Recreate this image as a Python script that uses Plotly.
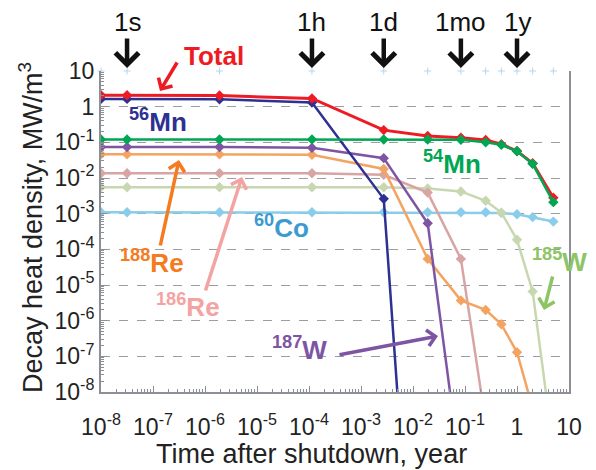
import math
import plotly.graph_objects as go

YEAR_S = 365.25 * 24 * 3600

# ---- data ----
times = [1e-8, 1 / YEAR_S, 60 / YEAR_S, 3600 / YEAR_S, 86400 / YEAR_S, 7 * 86400 / YEAR_S,
         1 / 12, 0.25, 0.5, 1, 2, 5]
total = [2.1, 2.1, 2.05, 1.7, 0.22, 0.15, 0.135, 0.117, 0.089, 0.057, 0.026, 0.0028]
mn56 = [1.65, 1.65, 1.62, 1.3, 0.0026, 8e-21]
mn54 = [0.12, 0.12, 0.12, 0.12, 0.12, 0.12, 0.118, 0.1, 0.085, 0.056, 0.025, 0.0021]
w187 = [0.074, 0.074, 0.074, 0.07, 0.036, 5.4e-4, 5e-11]
re188 = [0.046, 0.046, 0.046, 0.045, 0.018, 5.4e-5, 3.7e-6, 2.0e-6, 7.9e-7, 1.3e-7, 3.5e-9]
re186 = [0.0136, 0.0136, 0.0136, 0.0136, 0.0123, 0.0039, 5.4e-5, 1.4e-9]
w185 = [0.0055, 0.0055, 0.0055, 0.0055, 0.0055, 0.0051, 0.0042, 0.0023, 0.00107, 1.86e-4, 6.6e-6, 2.5e-10]
co60 = [0.0011, 0.0011, 0.0011, 0.0011, 0.0011, 0.0011, 0.0011, 0.0011, 0.00105, 0.00096, 0.0008, 0.0006]
top_ref = [10] * len(times)

y_tickvals = [10.0 ** k for k in range(1, -9, -1)]
y_ticktext = ["10", "1"] + [f"10<sup>-{k}</sup>" for k in range(1, 9)]
x_tickvals = [10.0 ** k for k in range(-8, 2)]
x_ticktext = [f"10<sup>-{k}</sup>" for k in range(8, 0, -1)] + ["1", "10"]

time_marks = ["1s", "1h", "1d", "1mo", "1y"]
time_mark_years = [1 / YEAR_S, 3600 / YEAR_S, 86400 / YEAR_S, 1 / 12, 1.0]

FONT = "Liberation Sans, Arial, sans-serif"

series = [
    ("60Co", co60, "#8ACDEA", 2.5),
    ("185W", w185, "#C7D8B0", 2.5),
    ("186Re", re186, "#D8A4A4", 2.5),
    ("188Re", re188, "#F4A462", 2.5),
    ("187W", w187, "#7E55A3", 2.5),
    ("56Mn", mn56, "#2E3192", 2.5),
    ("Total", total, "#ED1C24", 3),
    ("54Mn", mn54, "#00A651", 2.5),
]

fig = go.Figure()
fig.add_trace(go.Scatter(
    x=times, y=top_ref, mode="markers", hoverinfo="skip",
    marker=dict(symbol="cross-thin", size=5, line=dict(color="#B5D5EE", width=1)),
    cliponaxis=False, showlegend=False))
for name, vals, color, w in series:
    fig.add_trace(go.Scatter(
        x=times[:len(vals)], y=vals, mode="lines+markers", name=name,
        line=dict(color=color, width=w),
        marker=dict(symbol="diamond", size=8, color=color),
        showlegend=False))

# plot area in pixels
L, R, T, B = 101, 569, 71, 392
W, H = 596, 470


def pxp(xp):
    return (xp - L) / (R - L)


def pyp(yp):
    return (B - yp) / (B - T)


ann = []
# time arrows
for lab, t in zip(time_marks, time_mark_years):
    ann.append(dict(x=math.log10(t), xref="x", y=pyp(68), yref="paper", text=lab,
                    showarrow=True, ax=0, ay=-46, arrowhead=4, arrowsize=1.0, arrowwidth=4.5,
                    arrowcolor="#111111", font=dict(family=FONT, size=26, color="#111111")))

labels = [
    ("<b>Total</b>", 214, 56, "#ED1C24"),
    ("<b><sup>56</sup>Mn</b>", 158, 120, "#2E3192"),
    ("<b><sup>54</sup>Mn</b>", 452, 162, "#00A651"),
    ("<b><sup>60</sup>Co</b>", 281, 226, "#3D9AD1"),
    ("<b><sup>188</sup>Re</b>", 152, 261, "#F47B20"),
    ("<b><sup>186</sup>Re</b>", 188, 305, "#F4A3A3"),
    ("<b><sup>187</sup>W</b>", 299, 348, "#7E55A3"),
    ("<b><sup>185</sup>W</b>", 559, 260, "#8DC565"),
]
for txt, xp, yp, c in labels:
    ann.append(dict(x=pxp(xp), y=pyp(yp), xref="paper", yref="paper", text=txt,
                    showarrow=False, xanchor="center", yanchor="middle",
                    font=dict(family=FONT, size=26, color=c)))

arrows = [
    ((178, 61), (160, 91), "#ED1C24"),
    ((160, 247), (179, 160), "#F47B20"),
    ((205, 292), (242, 177), "#F4A3A3"),
    ((338, 355), (438, 336), "#7E55A3"),
    ((553, 275), (544, 310), "#8DC565"),
]
for (tx, ty), (hx, hy), c in arrows:
    ann.append(dict(x=pxp(hx), y=pyp(hy), xref="paper", yref="paper", text="",
                    showarrow=True, ax=tx - hx, ay=ty - hy, arrowhead=4, arrowsize=0.9,
                    arrowwidth=3.5, arrowcolor=c))

# axis titles as annotations
ann.append(dict(x=pxp(31), y=pyp(228), xref="paper", yref="paper",
                text="Decay heat density, MW/m<sup>3</sup>", textangle=-90, showarrow=False,
                xanchor="center", yanchor="middle",
                font=dict(family=FONT, size=27, color="#222222")))
ann.append(dict(x=pxp(311), y=pyp(454), xref="paper", yref="paper",
                text="Time after shutdown, year", showarrow=False,
                xanchor="center", yanchor="middle",
                font=dict(family=FONT, size=27, color="#222222")))

minor_vals = [k * 10.0 ** d for d in range(-8, 1) for k in range(2, 10)]

fig.update_layout(
    width=W, height=H, margin=dict(l=L, r=W - R, t=T, b=H - B, autoexpand=False),
    paper_bgcolor="white", plot_bgcolor="white",
    font=dict(family=FONT, color="#222222"),
    annotations=ann,
    xaxis=dict(type="log", range=[-8, 1], tickmode="array", tickvals=x_tickvals,
               ticktext=x_ticktext, tickfont=dict(size=23), showgrid=False,
               showline=True, linecolor="#8C9096", linewidth=2, ticks="inside",
               ticklen=6, tickcolor="#8C9096", zeroline=False, automargin=False,
               ticklabelstandoff=13,
               minor=dict(tickmode="array", tickvals=minor_vals, ticks="inside", ticklen=3,
                          tickcolor="#8C9096", showgrid=False)),
    yaxis=dict(type="log", range=[-8, 1], tickmode="array", tickvals=y_tickvals,
               ticktext=y_ticktext, tickfont=dict(size=23), showgrid=True,
               gridcolor="#9A9EA4", griddash="dash", gridwidth=1,
               showline=True, linecolor="#8C9096", linewidth=2, mirror=True,
               ticks="inside", ticklen=6, tickcolor="#8C9096", zeroline=False, automargin=False,
               minor=dict(tickmode="array", tickvals=minor_vals, ticks="inside", ticklen=3,
                          tickcolor="#8C9096", showgrid=False)),
)

fig.write_html("out.html")
